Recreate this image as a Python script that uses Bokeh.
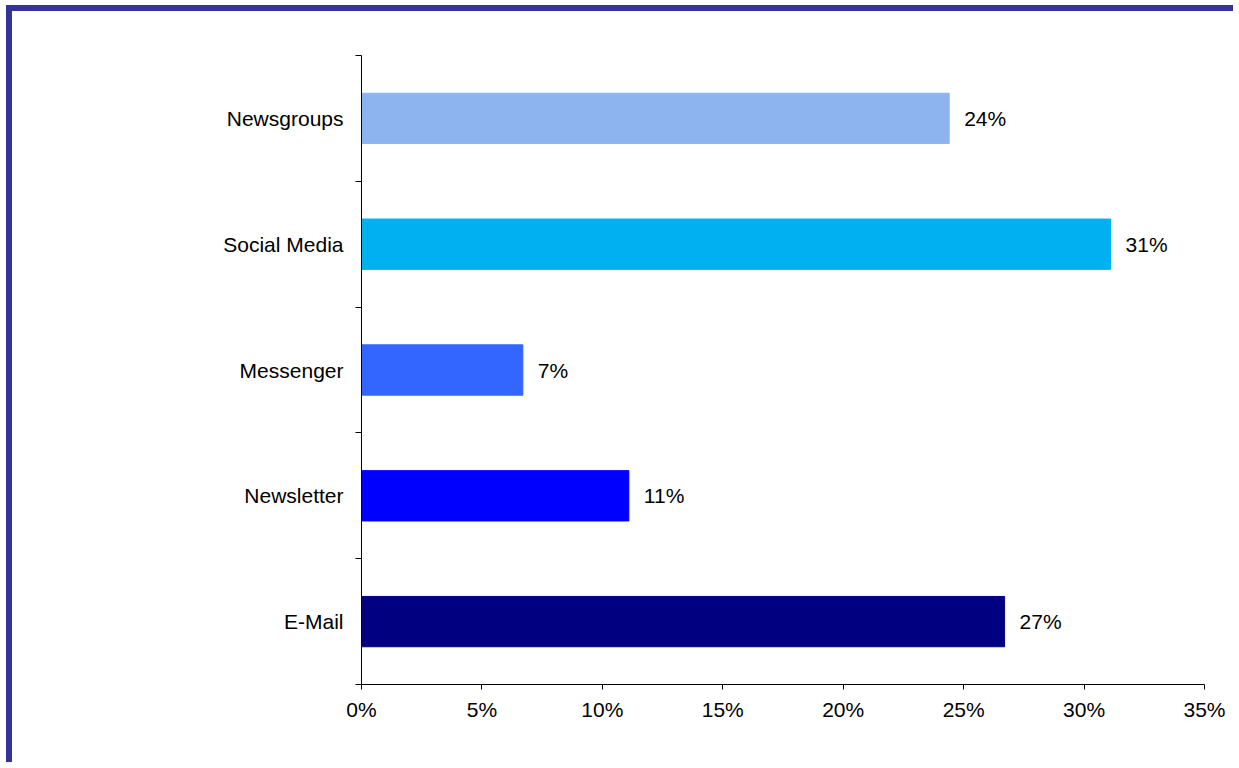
from bokeh.plotting import figure
from bokeh.models import Range1d, FixedTicker, PrintfTickFormatter, ColumnDataSource
from bokeh.core.properties import value
from bokeh.embed import file_html
from bokeh.resources import INLINE

# Data (bottom to top)
categories = ["E-Mail", "Newsletter", "Messenger", "Social Media", "Newsgroups"]
shares = [26.7, 11.1, 6.7, 31.1, 24.4]
share_labels = ["27%", "11%", "7%", "31%", "24%"]
bar_colors = ["#000080", "#0000FF", "#3366FF", "#00B0F0", "#8EB4F0"]
x_ticks = [0, 5, 10, 15, 20, 25, 30, 35]

FONT = "Liberation Sans"

positions = [i + 0.5 for i in range(len(categories))]
src = ColumnDataSource(dict(y=positions, share=shares, label=share_labels, color=bar_colors))

p = figure(width=1227, height=757, output_backend="svg", toolbar_location=None,
           x_range=Range1d(0, 35), y_range=Range1d(0, len(categories)),
           min_border_left=349, min_border_top=44, min_border_right=35, min_border_bottom=84)
p.styles = {"border-left": "6px solid #333399", "border-top": "6px solid #333399",
            "margin-left": "6px", "margin-top": "5px"}

p.hbar(y="y", right="share", left=0, height=0.4, color="color", source=src)
p.text(x="share", y="y", text="label", source=src, x_offset=15,
       text_baseline="middle", text_align="left",
       text_font=value(FONT), text_font_size="21px", text_color="#000000")

p.grid.visible = False
p.outline_line_color = None
p.background_fill_color = "white"
p.border_fill_color = "white"

xa = p.xaxis[0]
xa.ticker = FixedTicker(ticks=x_ticks)
xa.formatter = PrintfTickFormatter(format="%d%%")
xa.major_tick_out = 5
xa.major_tick_in = 0
xa.minor_tick_line_color = None
xa.axis_line_color = "#000000"
xa.major_tick_line_color = "#000000"
xa.major_label_text_font = FONT
xa.major_label_text_font_size = "21px"
xa.major_label_text_color = "#000000"
xa.major_label_standoff = 8

ya = p.yaxis[0]
ya.ticker = FixedTicker(ticks=positions, minor_ticks=list(range(len(categories) + 1)))
ya.major_label_overrides = {pos: c for pos, c in zip(positions, categories)}
ya.major_tick_line_color = None
ya.major_tick_out = 0
ya.major_tick_in = 0
ya.minor_tick_out = 6
ya.minor_tick_in = 0
ya.minor_tick_line_color = "#000000"
ya.axis_line_color = "#000000"
ya.major_label_text_font = FONT
ya.major_label_text_font_size = "21px"
ya.major_label_text_color = "#000000"
ya.major_label_standoff = 12

open("out.html", "w").write(file_html(p, INLINE))
